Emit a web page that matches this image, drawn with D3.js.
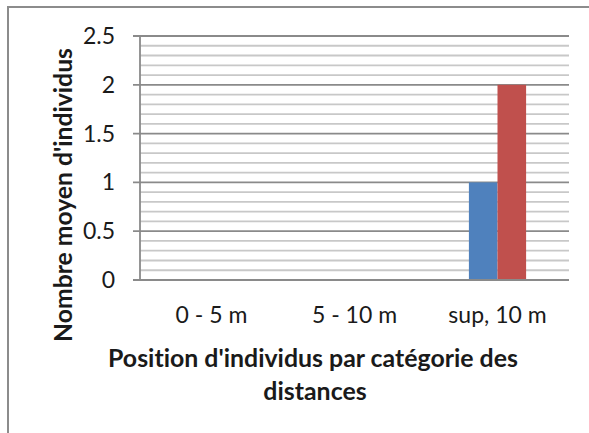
<!DOCTYPE html>
<html>
<head>
<meta charset="utf-8">
<script src="https://cdn.jsdelivr.net/npm/d3@7"></script>
<style>
  html, body { margin: 0; padding: 0; background: #fff; }
  svg { display: block; }
  text { font-family: Lato, "Open Sans", sans-serif; fill: #1a1a1a; font-variant-ligatures: none; font-feature-settings: "liga" 0, "clig" 0; }
</style>
</head>
<body>
<svg id="chart" width="589" height="433"></svg>
<script>
// ---- data ----
const categories = ["0 - 5 m", "5 - 10 m", "sup, 10 m"];
const seriesNames = ["Série 1", "Série 2"];
const series1 = [0, 0, 1];
const series2 = [0, 0, 2];
const yTicks = [0, 0.5, 1, 1.5, 2, 2.5];
const yTickLabels = ["0", "0.5", "1", "1.5", "2", "2.5"];
const yMinorTicks = d3.range(0, 26).map(i => i / 10);
const xTitleLines = ["Position d'individus par catégorie des", "distances"];
const yTitle = "Nombre moyen d'individus";

// ---- layout ----
const svg = d3.select("#chart");
const W = 589, H = 433;
const plot = { left: 140, right: 569, top: 36, bottom: 280 };
const colors = ["#4F81BD", "#C0504D"];

// frame (left and top visible)
svg.append("path")
  .attr("d", `M8,${H} L8,7 L${W},7`)
  .attr("fill", "none").attr("stroke", "#8c8c8c").attr("stroke-width", 2);

const x = d3.scaleBand().domain(categories).range([plot.left, plot.right]);
const groupW = x.bandwidth() / 2.5;
const xs = d3.scaleBand().domain(seriesNames).range([0, groupW]);
const y = d3.scaleLinear().domain([0, 2.5]).range([plot.bottom, plot.top]);

// minor gridlines
svg.append("g").selectAll("line")
  .data(yMinorTicks.filter(v => Math.abs(v * 2 - Math.round(v * 2)) > 1e-6))
  .join("line")
  .attr("x1", plot.left).attr("x2", plot.right)
  .attr("y1", d => y(d)).attr("y2", d => y(d))
  .attr("stroke", "#c8c8c8").attr("stroke-width", 1.8);

// major gridlines + ticks
svg.append("g").selectAll("line")
  .data(yTicks.filter(v => v > 0))
  .join("line")
  .attr("x1", plot.left - 7).attr("x2", plot.right)
  .attr("y1", d => y(d)).attr("y2", d => y(d))
  .attr("stroke", "#8a8a8a").attr("stroke-width", 1.8);

// bars
const data = categories.map((c, i) => ({ c, vals: [series1[i], series2[i]] }));
svg.append("g").selectAll("g")
  .data(data).join("g")
  .attr("transform", d => `translate(${x(d.c) + (x.bandwidth() - groupW) / 2},0)`)
  .selectAll("rect")
  .data(d => d.vals.map((v, j) => ({ v, s: seriesNames[j], j })))
  .join("rect")
  .attr("x", d => xs(d.s))
  .attr("width", xs.bandwidth())
  .attr("y", d => y(d.v))
  .attr("height", d => y(0) - y(d.v))
  .attr("fill", d => colors[d.j]);

// axes lines
svg.append("line")
  .attr("x1", plot.left).attr("x2", plot.left)
  .attr("y1", plot.top).attr("y2", plot.bottom)
  .attr("stroke", "#8a8a8a").attr("stroke-width", 1.8);
svg.append("line")
  .attr("x1", plot.left - 7).attr("x2", plot.right)
  .attr("y1", plot.bottom).attr("y2", plot.bottom)
  .attr("stroke", "#8a8a8a").attr("stroke-width", 1.8);

// y tick labels
svg.append("g").selectAll("text")
  .data(yTicks).join("text")
  .attr("x", 115).attr("y", d => y(d))
  .attr("dy", "0.35em")
  .attr("text-anchor", "end")
  .style("font-size", "23px")
  .text((d, i) => yTickLabels[i]);

// x tick labels
svg.append("g").selectAll("text")
  .data(categories).join("text")
  .attr("x", d => x(d) + x.bandwidth() / 2)
  .attr("y", 323)
  .attr("text-anchor", "middle")
  .style("font-size", "23px")
  .text(d => d);

// fit helper
function fit(sel, target) {
  const fs = parseFloat(sel.style("font-size"));
  const w = sel.node().getComputedTextLength();
  sel.style("font-size", (fs * target / w).toFixed(2) + "px");
}

// x title
const xt1 = svg.append("text").attr("x", 313).attr("y", 367)
  .attr("text-anchor", "middle").style("font-size", "22px").style("font-weight", "bold")
  .text(xTitleLines[0]);
fit(xt1, 410);
const fsx = xt1.style("font-size");
svg.append("text").attr("x", 315).attr("y", 400)
  .attr("text-anchor", "middle").style("font-size", fsx).style("font-weight", "bold")
  .text(xTitleLines[1]);

// y title
const yt = svg.append("text")
  .attr("transform", "translate(72,195) rotate(-90)")
  .attr("text-anchor", "middle").style("font-size", "22px").style("font-weight", "bold")
  .text(yTitle);
fit(yt, 294);
</script>
</body>
</html>
